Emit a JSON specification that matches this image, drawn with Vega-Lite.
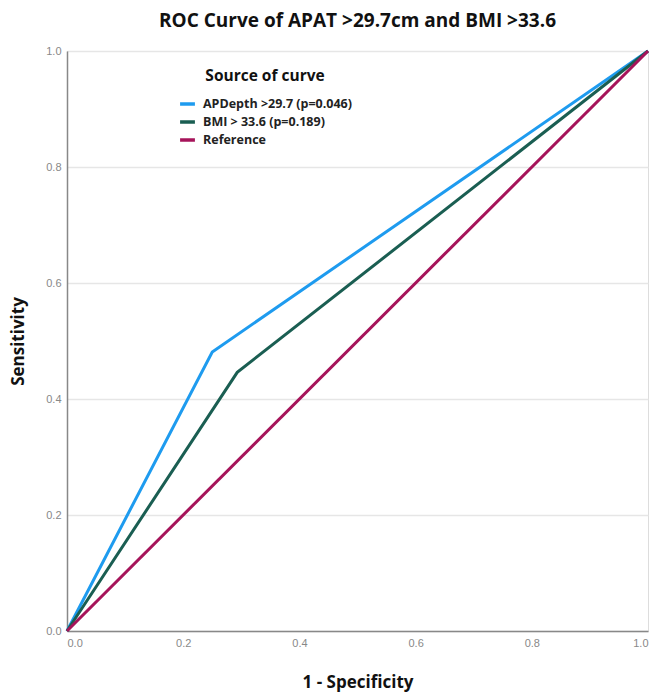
{
  "$schema": "https://vega.github.io/schema/vega-lite/v6.json",
  "width": 581,
  "height": 580,
  "autosize": "none",
  "padding": {"left": 67, "top": 51, "right": 13, "bottom": 69},
  "background": "white",
  "title": {
    "text": "ROC Curve of APAT >29.7cm and BMI >33.6",
    "font": "Open Sans",
    "fontSize": 19,
    "fontWeight": "bold",
    "color": "#111111",
    "anchor": "middle",
    "offset": 14
  },
  "data": {
    "values": [
      {"curve": "APDepth >29.7 (p=0.046)", "fpr": 0, "tpr": 0, "ord": 0},
      {"curve": "APDepth >29.7 (p=0.046)", "fpr": 0.25, "tpr": 0.481, "ord": 1},
      {"curve": "APDepth >29.7 (p=0.046)", "fpr": 1, "tpr": 1, "ord": 2},
      {"curve": "BMI > 33.6 (p=0.189)", "fpr": 0, "tpr": 0, "ord": 0},
      {"curve": "BMI > 33.6 (p=0.189)", "fpr": 0.293, "tpr": 0.446, "ord": 1},
      {"curve": "BMI > 33.6 (p=0.189)", "fpr": 1, "tpr": 1, "ord": 2},
      {"curve": "Reference", "fpr": 0, "tpr": 0, "ord": 0},
      {"curve": "Reference", "fpr": 1, "tpr": 1, "ord": 1}
    ]
  },
  "mark": {"type": "line", "strokeWidth": 3, "clip": false},
  "encoding": {
    "x": {
      "field": "fpr",
      "type": "quantitative",
      "scale": {"domain": [0, 1], "nice": false, "zero": false},
      "axis": {
        "title": "1 - Specificity",
        "titleFont": "Open Sans",
        "titleFontSize": 17,
        "titleFontWeight": "bold",
        "titleColor": "#111111",
        "titlePadding": 26,
        "values": [0, 0.2, 0.4, 0.6, 0.8, 1],
        "format": ".1f",
        "labelFont": "Liberation Sans",
        "labelFontSize": 11,
        "labelColor": "#888888",
        "labelPadding": 6,
        "grid": false,
        "ticks": false,
        "domainColor": "#888888",
        "domainWidth": 1.5
      }
    },
    "y": {
      "field": "tpr",
      "type": "quantitative",
      "scale": {"domain": [0, 1], "nice": false, "zero": false},
      "axis": {
        "title": "Sensitivity",
        "titleFont": "Open Sans",
        "titleFontSize": 17,
        "titleFontWeight": "bold",
        "titleColor": "#111111",
        "titlePadding": 18,
        "values": [0, 0.2, 0.4, 0.6, 0.8, 1],
        "format": ".1f",
        "labelFont": "Liberation Sans",
        "labelFontSize": 11,
        "labelColor": "#888888",
        "labelPadding": 6,
        "grid": true,
        "gridColor": "#e6e6e6",
        "gridWidth": 1.5,
        "ticks": false,
        "domainColor": "#888888",
        "domainWidth": 1.5
      }
    },
    "color": {
      "field": "curve",
      "type": "nominal",
      "scale": {
        "domain": ["APDepth >29.7 (p=0.046)", "BMI > 33.6 (p=0.189)", "Reference"],
        "range": ["#1E9BEF", "#1A5E52", "#A6145A"]
      },
      "legend": {
        "title": "Source of curve",
        "orient": "none",
        "legendX": 111,
        "legendY": 18,
        "titleFont": "Open Sans",
        "titleFontSize": 15.5,
        "titleFontWeight": "bold",
        "titleColor": "#111111",
        "titleAnchor": "middle",
        "titlePadding": 10,
        "labelFont": "Open Sans",
        "labelFontSize": 12.5,
        "labelFontWeight": "bold",
        "labelColor": "#222222",
        "labelOffset": 6,
        "symbolType": "stroke",
        "symbolStrokeWidth": 3.5,
        "symbolSize": 220,
        "rowPadding": 1,
        "offset": 0
      }
    },
    "order": {"field": "ord", "type": "quantitative"}
  }
}
